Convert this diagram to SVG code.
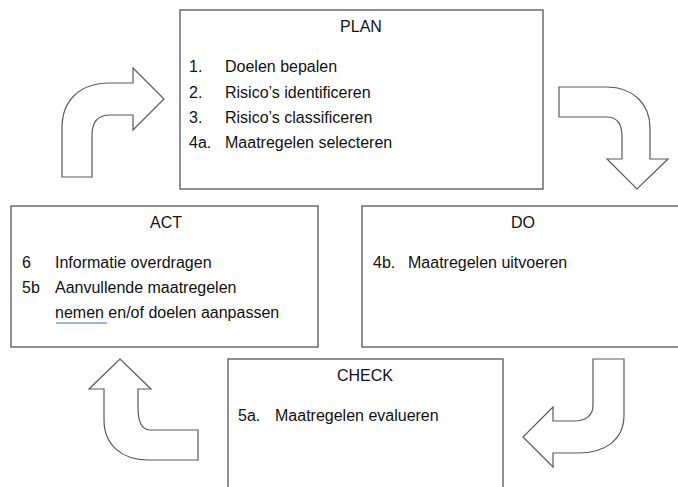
<svg xmlns="http://www.w3.org/2000/svg" width="678" height="487" viewBox="0 0 678 487">
  <style>
    .box { fill: #ffffff; stroke: #555555; stroke-width: 1.3; }
    .arrow { fill: #ffffff; stroke: #5a5a5a; stroke-width: 1.2; stroke-linejoin: miter; }
    text { font-family: "Liberation Sans", Arial, sans-serif; font-size: 16px; fill: #111111; }
    .title { text-anchor: middle; }
    .spell { fill: none; stroke: #7f9fd6; stroke-width: 1.6; }
  </style>
  <rect width="678" height="487" fill="#ffffff"/>

  <!-- curved block arrows linking the four phases -->
  <g id="connectors">
    <path class="arrow" d="M62,177 L62,128 C62,100 80,83 110,83 L133,83 L133,68 L164,99 L133,130 L133,115 L110,115 C98,115 92,122 92,135 L92,177 Z"/>
    <path class="arrow" d="M559,87 L607,87 C633,87 650,104 650,128 L650,159 L668,159 L637,189 L607,159 L622,159 L622,137 C622,124 617,117 607,117 L559,117 Z"/>
    <path class="arrow" d="M593,359 L624,359 L624,415 C624,440 605,453 578,453 L553,453 L553,467 L523,437 L553,407 L553,421 L573,421 C587,421 593,415 593,405 Z"/>
    <path class="arrow" d="M198,430 L198,460 L148,460 C122,460 104,445 104,420 L104,389 L89,389 L120,359 L151,389 L138,389 L138,407 C138,421 142,430 150,430 Z"/>
  </g>

  <g id="plan">
    <rect class="box" x="180" y="10" width="363" height="179"/>
    <text class="title" x="361" y="32">PLAN</text>
    <text x="189" y="72">1.</text><text x="225" y="72">Doelen bepalen</text>
    <text x="189" y="98">2.</text><text x="225" y="98">Risico’s identificeren</text>
    <text x="189" y="123">3.</text><text x="225" y="123">Risico’s classificeren</text>
    <text x="189" y="148">4a.</text><text x="225" y="148">Maatregelen selecteren</text>
  </g>

  <g id="act">
    <rect class="box" x="11" y="206" width="307" height="141"/>
    <text class="title" x="166" y="228">ACT</text>
    <text x="22" y="268">6</text><text x="55" y="268">Informatie overdragen</text>
    <text x="22" y="293">5b</text><text x="55" y="293">Aanvullende maatregelen</text>
    <text x="55" y="318">nemen en/of doelen aanpassen</text>
    <line class="spell" x1="56" y1="323" x2="107" y2="323"/>
  </g>

  <g id="do">
    <rect class="box" x="362" y="206" width="330" height="141"/>
    <text class="title" x="523" y="228">DO</text>
    <text x="373" y="268">4b.</text><text x="408" y="268">Maatregelen uitvoeren</text>
  </g>

  <g id="check">
    <rect class="box" x="228" y="359" width="275" height="140"/>
    <text class="title" x="365" y="381">CHECK</text>
    <text x="238" y="421">5a.</text><text x="275" y="421">Maatregelen evalueren</text>
  </g>
</svg>
